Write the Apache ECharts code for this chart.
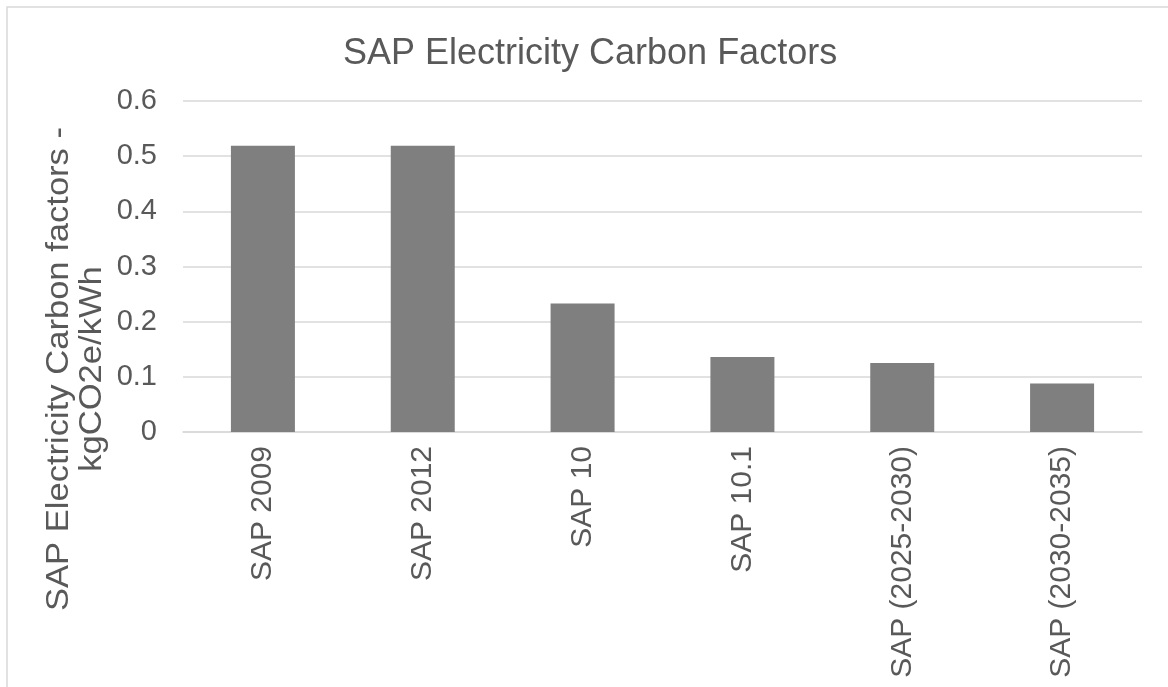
<!DOCTYPE html>
<html>
<head>
<meta charset="utf-8">
<script src="https://cdn.jsdelivr.net/npm/echarts@6/dist/echarts.min.js"></script>
<style>
html,body{margin:0;padding:0;background:#fff;}
#chart{width:1168px;height:687px;}
</style>
</head>
<body>
<div id="chart"></div>
<script>
const categories = ['SAP 2009', 'SAP 2012', 'SAP 10', 'SAP 10.1', 'SAP (2025-2030)', 'SAP (2030-2035)'];
const values = [0.519, 0.519, 0.233, 0.136, 0.125, 0.088];
const titleText = 'SAP Electricity Carbon Factors';
const yAxisTitle = 'SAP Electricity Carbon factors -\nkgCO2e/kWh';

const FONT = '"Liberation Sans", Arial, sans-serif';
const TXT = '#595959';

const chart = echarts.init(document.getElementById('chart'));
chart.setOption({
  animation: false,
  backgroundColor: '#ffffff',
  title: {
    text: titleText,
    left: 338,
    top: 31,
    textStyle: { fontFamily: FONT, fontSize: 36, fontWeight: 'normal', color: TXT }
  },
  grid: { left: 183, right: 26, top: 101, bottom: 255, containLabel: false },
  xAxis: {
    type: 'category',
    data: categories,
    axisLine: { show: true, lineStyle: { color: '#d9d9d9', width: 1.5 } },
    axisTick: { show: false },
    axisLabel: { rotate: 90, margin: 14, fontFamily: FONT, fontSize: 30, color: TXT, interval: 0 }
  },
  yAxis: {
    type: 'value',
    min: 0, max: 0.6, interval: 0.1,
    axisLine: { show: false },
    axisTick: { show: false },
    splitLine: { lineStyle: { color: '#d9d9d9', width: 1.5 } },
    axisLabel: { margin: 26, fontFamily: FONT, fontSize: 29, color: TXT }
  },
  series: [{
    type: 'bar',
    data: values,
    barWidth: 64,
    itemStyle: { color: '#7f7f7f' }
  }],
  graphic: [
    {
      type: 'rect', silent: true,
      shape: { x: 7, y: 7, width: 1300, height: 800 },
      style: { fill: 'none', stroke: '#d9d9d9', lineWidth: 1.5 }
    },
    {
      type: 'text', silent: true,
      x: 76, y: 369, rotation: Math.PI / 2, scaleX: 1.08,
      style: {
        text: yAxisTitle, fontFamily: FONT, fontSize: 32, fill: TXT,
        align: 'center', verticalAlign: 'middle', lineHeight: 33
      }
    }
  ]
});
</script>
</body>
</html>
